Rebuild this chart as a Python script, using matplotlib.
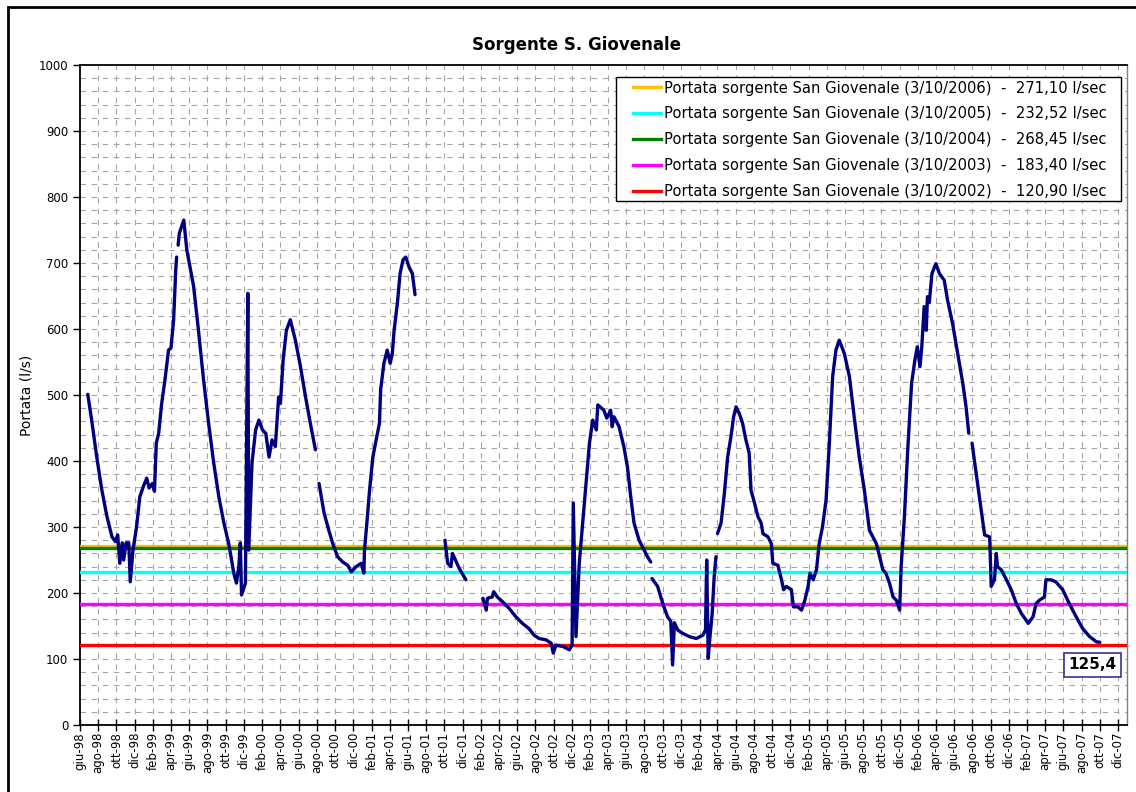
import numpy as np
import pandas as pd
import matplotlib
matplotlib.use("Agg")
import matplotlib.pyplot as plt
from matplotlib.patches import Rectangle

# daily flow of the spring (l/s); NaN marks a gap in the record
dates = [
    "1998-06-27", "1998-07-10", "1998-07-27", "1998-08-13", "1998-08-30", "1998-09-16",
    "1998-09-27", "1998-10-05", "1998-10-12", "1998-10-20", "1998-10-25", "1998-11-02",
    "1998-11-11", "1998-11-16", "1998-11-25", "1998-12-07", "1998-12-18", "1999-01-01",
    "1999-01-10", "1999-01-18", "1999-01-29", "1999-02-05", "1999-02-11", "1999-02-19",
    "1999-03-01", "1999-03-12", "1999-03-24", "1999-04-01", "1999-04-10", "1999-04-17",
    "1999-04-20", "1999-04-22", "1999-04-25", "1999-04-29", "1999-05-14", "1999-05-24",
    "1999-06-16", "1999-07-02", "1999-07-19", "1999-08-05", "1999-08-22", "1999-09-08",
    "1999-09-25", "1999-10-11", "1999-10-17", "1999-10-28", "1999-11-06", "1999-11-14",
    "1999-11-19", "1999-11-23", "1999-12-06", "1999-12-14", "1999-12-17", "1999-12-28",
    "2000-01-09", "2000-01-20", "2000-02-01", "2000-02-12", "2000-02-23", "2000-03-04",
    "2000-03-15", "2000-03-26", "2000-04-01", "2000-04-10", "2000-04-21", "2000-05-04",
    "2000-05-21", "2000-06-07", "2000-06-24", "2000-07-10", "2000-07-27", "2000-08-02",
    "2000-08-08", "2000-08-25", "2000-09-11", "2000-09-23", "2000-10-09", "2000-10-26",
    "2000-11-12", "2000-11-24", "2000-12-10", "2000-12-27", "2001-01-05", "2001-01-07",
    "2001-01-15", "2001-01-24", "2001-02-04", "2001-02-15", "2001-02-26", "2001-03-02",
    "2001-03-13", "2001-03-24", "2001-04-03", "2001-04-10", "2001-04-16", "2001-04-27",
    "2001-05-06", "2001-05-16", "2001-05-25", "2001-06-05", "2001-06-16", "2001-06-25",
    "2001-08-15",
    "2001-10-03", "2001-10-12", "2001-10-23", "2001-10-28", "2001-11-07", "2001-11-20",
    "2001-12-12", "2002-01-10",
    "2002-02-07", "2002-02-18", "2002-02-22", "2002-03-10", "2002-03-15", "2002-03-27",
    "2002-04-13", "2002-05-05", "2002-05-28", "2002-06-19", "2002-07-11", "2002-07-28",
    "2002-08-14", "2002-09-06", "2002-09-23", "2002-09-30", "2002-10-09", "2002-11-01",
    "2002-11-23", "2002-12-02", "2002-12-06", "2002-12-15", "2002-12-26", "2003-01-12",
    "2003-01-29", "2003-02-09", "2003-02-21", "2003-02-26", "2003-03-18", "2003-03-28",
    "2003-04-10", "2003-04-15", "2003-04-21", "2003-05-08", "2003-05-24", "2003-06-05",
    "2003-06-16", "2003-06-27", "2003-07-14", "2003-07-31", "2003-08-11", "2003-08-22",
    "2003-08-24",
    "2003-08-26", "2003-09-14", "2003-10-01", "2003-10-17", "2003-10-28", "2003-11-03",
    "2003-11-09", "2003-11-20", "2003-12-06", "2003-12-29", "2004-01-21", "2004-02-12",
    "2004-02-21", "2004-02-25", "2004-03-01", "2004-03-07", "2004-03-14", "2004-03-21",
    "2004-03-27", "2004-03-29",
    "2004-04-01", "2004-04-13", "2004-04-24", "2004-05-05", "2004-05-16", "2004-05-25",
    "2004-06-02", "2004-06-13", "2004-06-24", "2004-07-05", "2004-07-16", "2004-07-22",
    "2004-08-03", "2004-08-14", "2004-08-25", "2004-08-31", "2004-09-17", "2004-09-28",
    "2004-10-03", "2004-10-20", "2004-11-01", "2004-11-08", "2004-11-17", "2004-12-04",
    "2004-12-11", "2004-12-26", "2005-01-07", "2005-01-18", "2005-01-29", "2005-02-04",
    "2005-02-15", "2005-02-26", "2005-03-07", "2005-03-18", "2005-03-30", "2005-04-10",
    "2005-04-21", "2005-05-02", "2005-05-13", "2005-05-30", "2005-06-16", "2005-07-02",
    "2005-07-19", "2005-08-05", "2005-08-22", "2005-09-14", "2005-09-25", "2005-10-06",
    "2005-10-16", "2005-10-28", "2005-11-09", "2005-11-20", "2005-12-01", "2005-12-06",
    "2005-12-17", "2005-12-28", "2006-01-10", "2006-01-21", "2006-01-29", "2006-02-07",
    "2006-02-13", "2006-02-21", "2006-02-28", "2006-03-04", "2006-03-10", "2006-03-19",
    "2006-04-01", "2006-04-13", "2006-04-29", "2006-05-10", "2006-05-27", "2006-06-13",
    "2006-06-30", "2006-07-11", "2006-07-20", "2006-07-25",
    "2006-07-31", "2006-08-14", "2006-08-31", "2006-09-11", "2006-09-28", "2006-10-03",
    "2006-10-14", "2006-10-20", "2006-10-24", "2006-11-06", "2006-11-23", "2006-12-09",
    "2006-12-26", "2007-01-12", "2007-02-04", "2007-02-20", "2007-03-02", "2007-03-13",
    "2007-03-30", "2007-04-04", "2007-04-21", "2007-05-07", "2007-05-30", "2007-06-21",
    "2007-07-14", "2007-08-05", "2007-08-28", "2007-09-20", "2007-10-01",
]
flow = [
    501, 462, 406, 356, 316, 285,
    278, 288, 245, 276, 250, 276,
    276, 217, 265, 300, 346, 364,
    374, 359, 366, 354, 427, 442,
    487, 523, 568, 571, 614, 689,
    709, np.nan, 727, 745, 765, 720,
    664, 598, 523, 457, 397, 346,
    306, 275, 260, 230, 215, 240,
    276, 197, 215, 654, 265, 397,
    447, 462, 447, 442, 406, 432,
    422, 497, 487, 553, 598, 614,
    583, 543, 497, 457, 417, np.nan,
    366, 321, 293, 275, 255, 247,
    242, 232, 240, 245, 230, 265,
    306, 356, 406, 432, 457, 508,
    548, 568, 548, 563, 598, 639,
    684, 705, 709, 694, 684, 652,
    np.nan,
    280, 245, 240, 260, 250, 237,
    220, np.nan,
    192, 174, 192, 194, 202, 194,
    187, 177, 164, 154, 146, 136,
    131, 129, 124, 109, 121, 119,
    114, 121, 336, 134, 245, 336,
    427, 462, 447, 485, 477, 465,
    477, 452, 467, 452, 422, 391,
    346, 306, 280, 265, 255, 247,
    np.nan,
    222, 210, 184, 164, 157, 91,
    155, 144, 139, 134, 131, 136,
    144, 250, 101, 134, 167, 225,
    255, np.nan,
    290, 306, 351, 406, 437, 467,
    482, 472, 457, 432, 412, 356,
    336, 316, 306, 290, 285, 275,
    245, 242, 220, 205, 210, 205,
    179, 179, 174, 189, 210, 230,
    220, 235, 275, 300, 341, 427,
    528, 568, 583, 563, 528, 467,
    406, 356, 295, 275, 255, 235,
    230, 215, 194, 189, 174, 240,
    316, 417, 518, 553, 573, 543,
    573, 634, 598, 649, 640, 684,
    699, 684, 674, 644, 608, 563,
    518, 482, 442, np.nan,
    427, 381, 326, 288, 285, 210,
    220, 260, 240, 235, 220, 205,
    184, 169, 154, 164, 184, 189,
    194, 220, 220, 217, 205, 184,
    164, 146, 134, 126, 125.4,
]

# flow on 3 October of each year (l/s)
ref_years = ["2006", "2005", "2004", "2003", "2002"]
ref_values = [271.10, 232.52, 268.45, 183.40, 120.90]
ref_colors = ["#FFC000", "#00FFFF", "#008000", "#FF00FF", "#FF0000"]

mesi = ["gen", "feb", "mar", "apr", "mag", "giu", "lug", "ago", "set", "ott", "nov", "dic"]

t = pd.to_datetime(dates)
x_start, x_end = pd.Timestamp("1998-06-01"), pd.Timestamp("2007-12-31")

W, H = 1136, 792
fig = plt.figure(figsize=(W / 100, H / 100), dpi=100)
ax = fig.add_axes([80 / W, 67 / H, 1047 / W, 660 / H])

# outer chart-area frame (cut off on the right and bottom in the original)
fig.patches.append(Rectangle((8 / W, -0.1), 1.2, 1 - 7 / H + 0.1,
                             transform=fig.transFigure, fill=False,
                             edgecolor="black", linewidth=2))

grid_kw = dict(color="#a6a6a6", linewidth=0.8, linestyle=(0, (5, 5)), zorder=0)
for v in np.arange(20, 1000, 20):
    ax.axhline(v, **grid_kw)
tick_dates = pd.date_range("1998-06-01", "2007-12-01", freq="2MS")
for d in tick_dates[1:]:
    ax.axvline(d, **grid_kw)

handles = []
for i in range(len(ref_years)):
    lab = "Portata sorgente San Giovenale (3/10/%s)  -  %s l/sec" % (
        ref_years[i], ("%.2f" % ref_values[i]).replace(".", ","))
    h, = ax.plot([x_start, x_end], [ref_values[i], ref_values[i]],
                 color=ref_colors[i], linewidth=2.4, label=lab, zorder=3)
    handles.append(h)
# green (2004) sits on top of the yellow (2006) line
handles[2].set_zorder(3.5)

ax.plot(t, flow, color="#000080", linewidth=2.4, zorder=4, solid_capstyle="round")

ax.set_xlim(x_start, x_end)
ax.set_ylim(0, 1000)
ax.set_yticks(np.arange(0, 1001, 100))
ax.set_xticks(tick_dates)
ax.set_xticklabels(["%s-%02d" % (mesi[d.month - 1], d.year % 100) for d in tick_dates],
                   rotation=90, fontsize=8.5)
ax.tick_params(axis="y", labelsize=8.5, direction="out", length=5, width=1)
ax.tick_params(axis="x", direction="inout", length=8, width=1, pad=1)

for s in ["left", "bottom", "top"]:
    ax.spines[s].set_linewidth(1.3)
    ax.spines[s].set_color("black")
ax.spines["right"].set_color("#808080")
ax.spines["right"].set_linewidth(1)

ax.set_ylabel("Portata (l/s)", fontsize=10)
ax.yaxis.set_label_coords(-46 / 1047, 0.5)
fig.text(577 / W, 1 - 45 / H, "Sorgente S. Giovenale", ha="center", va="center",
         fontsize=12, fontweight="bold")

# legend frame drawn by hand: Excel pads it more on the sides than on top/bottom
ax.add_patch(Rectangle((616 / W, 1 - 201 / H), 505 / W, 124 / H, transform=fig.transFigure,
                       facecolor="white", edgecolor="black", linewidth=1, zorder=5))
leg = ax.legend(handles=handles, loc="upper right", bbox_to_anchor=(1107 / W, 1 - 80.5 / H),
                bbox_transform=fig.transFigure, fontsize=10.65, frameon=False,
                handlelength=1.9, handletextpad=0.22, labelspacing=0.74, borderpad=0,
                borderaxespad=0)
leg.set_zorder(6)

ax.text(pd.Timestamp("2007-09-07"), 91, "125,4", ha="center", va="center", fontsize=11,
        fontweight="bold", zorder=6,
        bbox=dict(boxstyle="square,pad=0.3", facecolor="white", edgecolor="#333399", linewidth=1.2))

fig.savefig("out.png", dpi=100)
